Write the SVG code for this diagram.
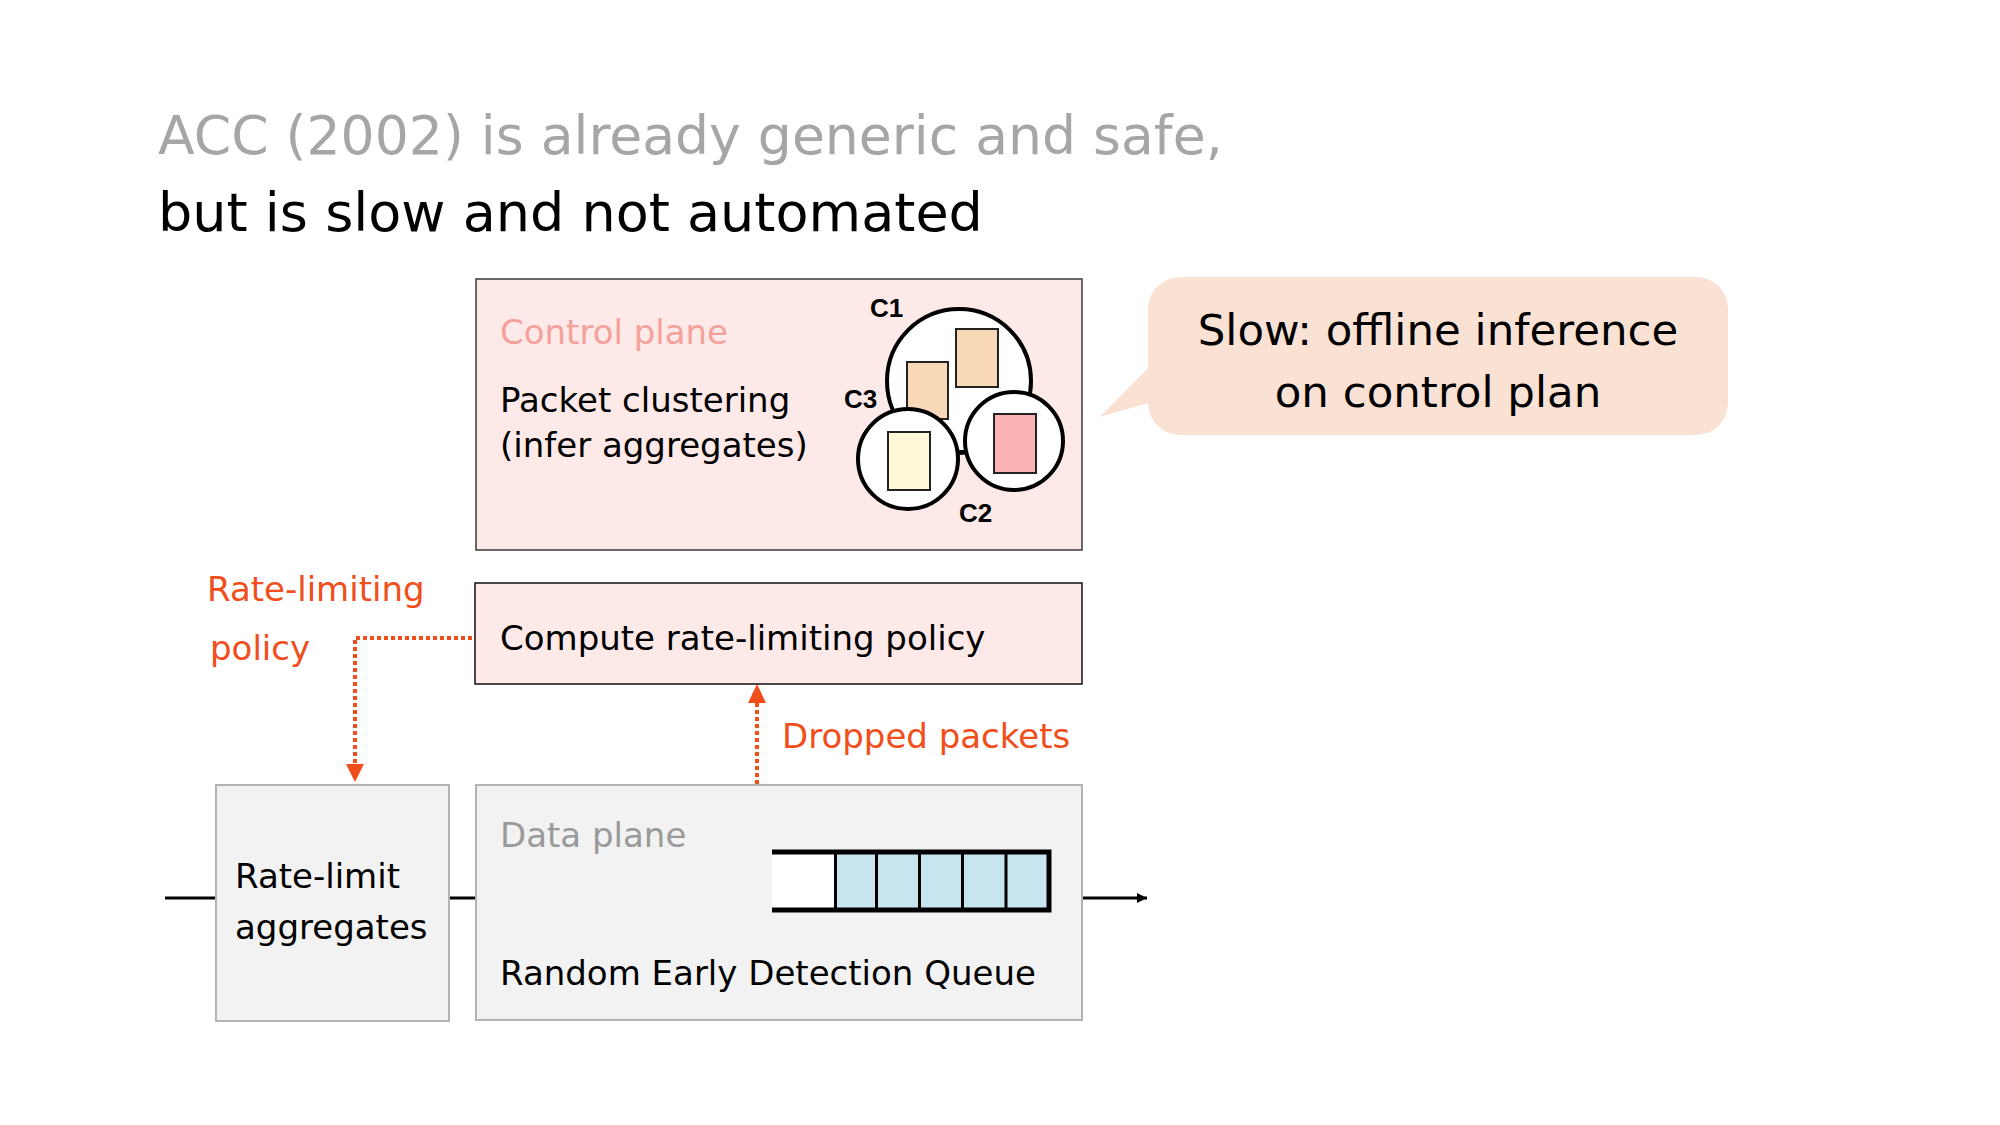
<svg xmlns="http://www.w3.org/2000/svg" width="2000" height="1125" viewBox="0 0 2000 1125">
<defs>
<style>
text{font-family:"DejaVu Sans","Liberation Sans",sans-serif;}
.t{font-size:34px;fill:#000;}
.title{font-size:54px;}
.red{fill:#f24e1c;}
.pinkbox{fill:#fde9e8;stroke:#3a3a3a;stroke-width:1.5;}
.greybox{fill:#f2f2f2;stroke:#b3b3b3;stroke-width:2;}
.circ{fill:#fff;stroke:#000;stroke-width:4;}
.pk{stroke:#222;stroke-width:2;}
.cl{font-family:"Liberation Sans",Arial,sans-serif;font-weight:bold;font-size:26px;fill:#000;}
.dot{fill:none;stroke:#f24e1c;stroke-width:4;stroke-dasharray:4 3;}
</style>
<marker id="ar" viewBox="0 0 10 10" refX="10" refY="5" markerWidth="10" markerHeight="10" markerUnits="userSpaceOnUse" orient="auto"><path d="M0 0 L10 5 L0 10 Z" fill="#000"/></marker>
</defs>
<rect width="2000" height="1125" fill="#fff"/>
<g id="title">
<text class="title" x="158" y="154" fill="#a6a6a6" style="font-size:53.6px">ACC (2002) is already generic and safe,</text>
<text class="title" x="158" y="231" fill="#000">but is slow and not automated</text>
</g>
<g id="connectors">
<line x1="165" y1="898" x2="1147" y2="898" stroke="#000" stroke-width="3" marker-end="url(#ar)"/>
<polyline class="dot" points="472,638 355,638 355,766"/>
<path d="M346 764 L364 764 L355 782 Z" fill="#f24e1c"/>
<line class="dot" x1="757" y1="784" x2="757" y2="701"/>
<path d="M748 703 L766 703 L757 684 Z" fill="#f24e1c"/>
</g>
<g id="control-plane">
<rect class="pinkbox" x="476" y="279" width="606" height="271"/>
<text class="t" x="500" y="344" style="fill:#f4a19b">Control plane</text>
<text class="t" x="500" y="412">Packet clustering</text>
<text class="t" x="500" y="457">(infer aggregates)</text>
<g id="clusters">
<circle class="circ" cx="959" cy="381" r="72"/>
<rect class="pk" x="907" y="362" width="41" height="57" fill="#f9d8b8"/>
<rect class="pk" x="956" y="329" width="42" height="58" fill="#f9d8b8"/>
<line x1="955" y1="452" x2="967" y2="452" stroke="#000" stroke-width="4"/>
<circle class="circ" cx="908" cy="459" r="50"/>
<circle class="circ" cx="1014" cy="441" r="49"/>
<rect class="pk" x="888" y="432" width="42" height="58" fill="#fff9d9"/>
<rect class="pk" x="994" y="414" width="42" height="59" fill="#fbb3b3"/>
<text class="cl" x="870" y="317">C1</text>
<text class="cl" x="844" y="408">C3</text>
<text class="cl" x="959" y="522">C2</text>
</g>
</g>
<g id="callout">
<path d="M1180 277 H1696 A32 32 0 0 1 1728 309 V403 A32 32 0 0 1 1696 435 H1180 A32 32 0 0 1 1148 403 L1100 417 L1148 368 V309 A32 32 0 0 1 1180 277 Z" fill="#f9e2d4"/>
<text x="1438" y="345" text-anchor="middle" font-size="43.5" fill="#000">Slow: offline inference</text>
<text x="1438" y="407" text-anchor="middle" font-size="43.5" fill="#000">on control plan</text>
</g>
<g id="compute">
<rect class="pinkbox" x="475" y="583" width="607" height="101" style="stroke:#111"/>
<text class="t" x="500" y="650">Compute rate-limiting policy</text>
</g>
<g id="labels">
<text class="t red" x="207" y="601">Rate-limiting</text>
<text class="t red" x="210" y="660">policy</text>
<text class="t red" x="782" y="748">Dropped packets</text>
</g>
<g id="rate-limit">
<rect class="greybox" x="216" y="785" width="233" height="236"/>
<text class="t" x="235" y="888">Rate-limit</text>
<text class="t" x="235" y="939">aggregates</text>
</g>
<g id="data-plane">
<rect class="greybox" x="476" y="785" width="606" height="235"/>
<text class="t" x="500" y="847" style="fill:#9a9a9a">Data plane</text>
<text class="t" x="500" y="985">Random Early Detection Queue</text>
<g id="queue">
<rect x="772" y="852" width="63" height="58" fill="#fff"/>
<rect x="835" y="852" width="214" height="58" fill="#c7e5ef"/>
<g stroke="#000" stroke-width="3">
<line x1="835.5" y1="852" x2="835.5" y2="910"/>
<line x1="876.5" y1="852" x2="876.5" y2="910"/>
<line x1="919.5" y1="852" x2="919.5" y2="910"/>
<line x1="962.5" y1="852" x2="962.5" y2="910"/>
<line x1="1006" y1="852" x2="1006" y2="910"/>
</g>
<path d="M772 852 H1049 V910 H772" fill="none" stroke="#000" stroke-width="5"/>
</g>
</g>
</svg>
